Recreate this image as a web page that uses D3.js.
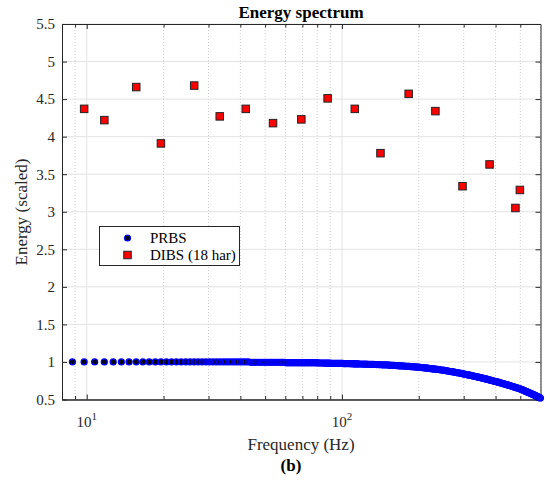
<!DOCTYPE html>
<html>
<head>
<meta charset="utf-8">
<script src="https://cdn.jsdelivr.net/npm/d3@7"></script>
<style>
  body { margin: 0; background: #fff; }
  svg { display: block; font-family: 'Liberation Serif', 'Times New Roman', serif; }
</style>
</head>
<body>
<svg id="chart" width="550" height="487"></svg>
<script>
// PRBS spectrum lines (Hz) and their scaled energy
const prbsFreq = [
  8.79, 9.77, 10.74, 11.72, 12.70, 13.67, 14.65, 15.63, 16.60, 17.58,
  18.56, 19.53, 20.51, 21.49, 22.46, 23.44, 24.42, 25.39, 26.37, 27.34,
  28.32, 29.30, 30.27, 31.25, 32.23, 33.20, 34.18, 35.16, 36.13, 37.11,
  38.09, 39.06, 40.04, 41.02, 41.99, 42.97, 43.95, 44.92, 45.90, 46.88,
  47.85, 48.83, 49.81, 50.78, 51.76, 52.74, 53.71, 54.69, 55.67, 56.64,
  57.62, 58.60, 59.57, 60.55, 61.53, 62.50, 63.48, 64.46, 65.43, 66.41,
  67.39, 68.36, 69.34, 70.32, 71.29, 72.27, 73.25, 74.22, 75.20, 76.17,
  77.15, 78.13,
  79.10, 80.08, 81.06, 82.03, 83.01, 83.99, 84.96, 85.94, 86.92, 87.89,
  88.87, 89.85, 90.82, 91.80, 92.78, 93.75, 94.73, 95.71, 96.68, 97.66,
  98.64, 99.61, 100.59, 101.57, 102.54, 103.52, 104.50, 105.47, 106.45, 107.43,
  108.40, 109.38, 110.36, 111.33, 112.31, 113.29, 114.26, 115.24, 116.22, 117.19,
  119.15, 121.10, 123.05, 125.00, 126.96, 128.91, 130.86, 132.82, 134.77, 136.72,
  138.68, 140.63, 142.58, 144.54, 146.49, 148.44, 150.40, 152.35, 154.30, 156.26,
  158.21, 160.16, 162.12, 164.07, 166.02, 167.98, 169.93, 171.88, 173.83, 175.79,
  177.74, 179.69, 181.65, 183.60, 185.55, 187.51, 189.46, 191.41, 193.37, 195.32,
  197.27, 199.23, 201.18, 203.13, 205.09, 207.04, 208.99, 210.95, 212.90, 214.85,
  216.81, 218.76, 220.71, 222.66, 224.62, 226.57, 228.52, 230.48, 232.43, 234.38,
  237.31, 240.24, 243.17, 246.10, 249.03, 251.96, 254.89, 257.82, 260.75, 263.68,
  266.61, 269.54, 272.47, 275.40, 278.33, 281.26, 284.19, 287.12, 290.05, 292.98,
  295.91, 298.84, 301.77, 304.70, 307.63, 310.56, 313.49, 316.42, 319.35, 322.28,
  325.21, 328.14, 331.07, 334.00, 336.93, 339.86, 342.79, 345.72, 348.65, 351.58,
  354.51, 357.44, 360.37, 363.30, 366.23, 369.15, 372.08, 375.01, 377.94, 380.87,
  383.80, 386.73, 389.66,
  393.57, 397.48, 401.38, 405.29, 409.20, 413.10, 417.01, 420.91, 424.82, 428.73,
  432.63, 436.54, 440.45, 444.35, 448.26, 452.17, 456.07, 459.98, 463.89, 467.79,
  471.70, 475.60, 479.51, 483.42, 487.32, 491.23, 495.14, 499.04, 502.95, 506.86,
  510.76, 514.67, 518.57, 522.48, 526.39, 530.29, 534.20, 538.11, 542.01, 545.92,
  549.83, 553.73, 557.64, 561.55, 565.45, 569.36, 573.26, 577.17, 581.08, 584.98,
  588.89, 592.80, 596.70, 599.63,
];
const prbsEnergy = [
  1, 1, 1, 1, 1, 1, 1, 1, 1, 1,
  1, 1, 1, 1, 1, 1, 1, 1, 1, 1,
  1, 1, 1, 1, 1, 1, 1, 1, 1, 1,
  1, 1, 1, 1, 1, 1, 0.995, 0.995, 0.995, 0.995,
  0.995, 0.995, 0.995, 0.995, 0.995, 0.995, 0.995, 0.995, 0.995, 0.995,
  0.995, 0.995, 0.995, 0.99, 0.99, 0.99, 0.99, 0.99, 0.99, 0.99,
  0.99, 0.99, 0.99, 0.99, 0.99, 0.99, 0.99, 0.99, 0.99, 0.99,
  0.99, 0.99,
  0.99, 0.987, 0.987, 0.986, 0.986, 0.986, 0.985, 0.985, 0.985, 0.984,
  0.984, 0.984, 0.983, 0.983, 0.983, 0.982, 0.982, 0.982, 0.981, 0.981,
  0.981, 0.980, 0.980, 0.979, 0.979, 0.979, 0.978, 0.978, 0.977, 0.977,
  0.977, 0.976, 0.976, 0.975, 0.975, 0.975, 0.974, 0.974, 0.973, 0.973,
  0.972, 0.972, 0.971, 0.970, 0.969, 0.968, 0.968, 0.967, 0.966, 0.965,
  0.965, 0.964, 0.963, 0.962, 0.961, 0.961, 0.960, 0.959, 0.957, 0.956,
  0.955, 0.954, 0.953, 0.952, 0.950, 0.949, 0.948, 0.947, 0.946, 0.945,
  0.943, 0.942, 0.941, 0.940, 0.939, 0.938, 0.936, 0.935, 0.934, 0.933,
  0.932, 0.930, 0.929, 0.927, 0.926, 0.924, 0.923, 0.921, 0.920, 0.918,
  0.917, 0.915, 0.913, 0.912, 0.910, 0.909, 0.907, 0.906, 0.904, 0.903,
  0.900, 0.898, 0.895, 0.893, 0.891, 0.888, 0.885, 0.882, 0.879, 0.876,
  0.873, 0.870, 0.868, 0.865, 0.862, 0.859, 0.856, 0.853, 0.850, 0.847,
  0.844, 0.841, 0.838, 0.835, 0.832, 0.829, 0.827, 0.824, 0.821, 0.818,
  0.815, 0.812, 0.809, 0.806, 0.803, 0.800, 0.797, 0.794, 0.791, 0.788,
  0.786, 0.783, 0.780, 0.777, 0.774, 0.771, 0.768, 0.765, 0.762, 0.759,
  0.756, 0.753, 0.750,
  0.746, 0.742, 0.739, 0.735, 0.731, 0.727, 0.723, 0.719, 0.715, 0.711,
  0.707, 0.703, 0.700, 0.696, 0.692, 0.688, 0.684, 0.680, 0.676, 0.672,
  0.668, 0.664, 0.660, 0.657, 0.653, 0.649, 0.645, 0.641, 0.636, 0.632,
  0.627, 0.622, 0.618, 0.613, 0.608, 0.604, 0.599, 0.594, 0.590, 0.585,
  0.580, 0.576, 0.571, 0.566, 0.561, 0.557, 0.552, 0.547, 0.543, 0.538,
  0.533, 0.529, 0.524, 0.520,
];

// DIBS, 18 harmonics
const dibsFreq = [9.77, 11.72, 15.63, 19.53, 26.37, 33.20, 41.99, 53.71, 69.34,
  87.89, 112.31, 141.61, 182.62, 232.43, 296.89, 378.92, 478.53, 498.07];
const dibsEnergy = [4.37, 4.22, 4.66, 3.91, 4.68, 4.27, 4.37, 4.18, 4.23,
  4.51, 4.37, 3.78, 4.57, 4.34, 3.34, 3.63, 3.05, 3.29];

const xDomain = [8, 600];
const yDomain = [0.5, 5.5];
const xMajor = [10, 100];
const xMajorExp = ['1', '2'];
const xMinor = [9, 20, 30, 40, 50, 60, 70, 80, 90, 200, 300, 400, 500, 600];
const yTicks = [0.5, 1, 1.5, 2, 2.5, 3, 3.5, 4, 4.5, 5, 5.5];
const yTickLabels = ['0.5', '1', '1.5', '2', '2.5', '3', '3.5', '4', '4.5', '5', '5.5'];

const axisColor = '#262626';
const dotR = 3;

const svg = d3.select('#chart');
const margin = {
  top: 24, right: 9.5, bottom: 87.5, left: 62,
};
const width = +svg.attr('width') - margin.left - margin.right;
const height = +svg.attr('height') - margin.top - margin.bottom;
const g = svg.append('g').attr('transform', `translate(${margin.left},${margin.top})`);

const x = d3.scaleLog().domain(xDomain).range([0, width]);
const y = d3.scaleLinear().domain(yDomain).range([height, 0]);

// grid
const grid = g.append('g');
grid.selectAll('.ygrid').data(yTicks).enter().append('line')
  .attr('x1', 0).attr('x2', width)
  .attr('y1', d => y(d)).attr('y2', d => y(d))
  .attr('stroke', '#e3e3e3');
grid.selectAll('.xminor').data(xMinor).enter().append('line')
  .attr('x1', d => x(d)).attr('x2', d => x(d))
  .attr('y1', 0).attr('y2', height)
  .attr('stroke', '#cfcfcf')
  .attr('stroke-dasharray', '1,2');
grid.selectAll('.xmajor').data(xMajor).enter().append('line')
  .attr('x1', d => x(d)).attr('x2', d => x(d))
  .attr('y1', 0).attr('y2', height)
  .attr('stroke', '#e3e3e3');

// axes (ticks pointing inward)
const styleAxis = (sel) => {
  sel.selectAll('path, line').attr('stroke', axisColor);
  sel.selectAll('text').attr('fill', axisColor).attr('font-size', 15)
    .attr('font-family', "'Liberation Serif', 'Times New Roman', serif");
};

g.append('g').attr('transform', `translate(0,${height})`)
  .call(d3.axisBottom(x).tickValues(xMajor).tickSize(-5).tickSizeOuter(0).tickFormat(''))
  .call(styleAxis);
g.append('g').attr('transform', `translate(0,${height})`)
  .call(d3.axisBottom(x).tickValues(xMinor.slice(0, -1)).tickSize(-3.5).tickSizeOuter(0).tickFormat(''))
  .call(styleAxis);
g.append('g')
  .call(d3.axisTop(x).tickValues(xMajor).tickSize(-5).tickSizeOuter(0).tickFormat(''))
  .call(styleAxis);
g.append('g')
  .call(d3.axisTop(x).tickValues(xMinor.slice(0, -1)).tickSize(-3.5).tickSizeOuter(0).tickFormat(''))
  .call(styleAxis);
g.append('g')
  .call(d3.axisLeft(y).tickValues(yTicks).tickSize(-5).tickSizeOuter(0).tickPadding(7)
    .tickFormat((d, i) => yTickLabels[i]))
  .call(styleAxis);
g.append('g').attr('transform', `translate(${width},0)`)
  .call(d3.axisRight(y).tickValues(yTicks).tickSize(-5).tickSizeOuter(0).tickFormat(''))
  .call(styleAxis);

// 10^n labels
const xl = g.append('g').selectAll('text').data(xMajor).enter().append('text')
  .attr('x', d => x(d))
  .attr('y', height + 27)
  .attr('text-anchor', 'middle')
  .attr('fill', axisColor)
  .attr('font-size', 15)
  .text('10');
xl.append('tspan')
  .attr('dy', -7)
  .attr('font-size', 11)
  .text((d, i) => xMajorExp[i]);

// PRBS: dark faces first, blue rims on top (dense part reads as a blue band)
const prbs = d3.zip(prbsFreq, prbsEnergy);
const prbsG = g.append('g');
prbsG.selectAll('.face').data(prbs).enter().append('circle')
  .attr('cx', d => x(d[0]))
  .attr('cy', d => y(d[1]))
  .attr('r', dotR)
  .attr('fill', '#000010');
prbsG.selectAll('.rim').data(prbs).enter().append('circle')
  .attr('cx', d => x(d[0]))
  .attr('cy', d => y(d[1]))
  .attr('r', dotR)
  .attr('fill', 'none')
  .attr('stroke', '#0000ff')
  .attr('stroke-width', 1.2);

// DIBS
const sq = 7.5;
const dibs = d3.zip(dibsFreq, dibsEnergy);
g.append('g').selectAll('rect').data(dibs).enter().append('rect')
  .attr('x', d => x(d[0]) - sq / 2)
  .attr('y', d => y(d[1]) - sq / 2)
  .attr('width', sq)
  .attr('height', sq)
  .attr('fill', '#ff0000')
  .attr('stroke', '#222')
  .attr('stroke-width', 1);

// labels
svg.append('text')
  .attr('x', 301).attr('y', 18)
  .attr('text-anchor', 'middle')
  .attr('font-size', 17).attr('font-weight', 'bold')
  .attr('fill', '#000')
  .text('Energy spectrum');
svg.append('text')
  .attr('x', 301).attr('y', 450)
  .attr('text-anchor', 'middle')
  .attr('font-size', 17)
  .attr('fill', axisColor)
  .text('Frequency (Hz)');
svg.append('text')
  .attr('transform', 'translate(27,212) rotate(-90)')
  .attr('text-anchor', 'middle')
  .attr('font-size', 17)
  .attr('fill', axisColor)
  .text('Energy (scaled)');
svg.append('text')
  .attr('x', 291).attr('y', 471)
  .attr('text-anchor', 'middle')
  .attr('font-size', 17).attr('font-weight', 'bold')
  .attr('fill', '#000')
  .text('(b)');

// legend
const legend = svg.append('g').attr('transform', 'translate(99.5,226.5)');
legend.append('rect')
  .attr('width', 140).attr('height', 39)
  .attr('fill', '#fff')
  .attr('stroke', axisColor);
legend.append('circle')
  .attr('cx', 28).attr('cy', 11.5).attr('r', dotR)
  .attr('fill', '#000010').attr('stroke', '#0000ff').attr('stroke-width', 1.2);
legend.append('rect')
  .attr('x', 28 - sq / 2).attr('y', 28.5 - sq / 2)
  .attr('width', sq).attr('height', sq)
  .attr('fill', '#ff0000').attr('stroke', '#222');
legend.append('text')
  .attr('x', 50.5).attr('y', 16.5)
  .attr('font-size', 15).attr('fill', '#000')
  .text('PRBS');
legend.append('text')
  .attr('x', 50.5).attr('y', 33.5)
  .attr('font-size', 15).attr('fill', '#000')
  .text('DIBS (18 har)');
</script>
</body>
</html>
